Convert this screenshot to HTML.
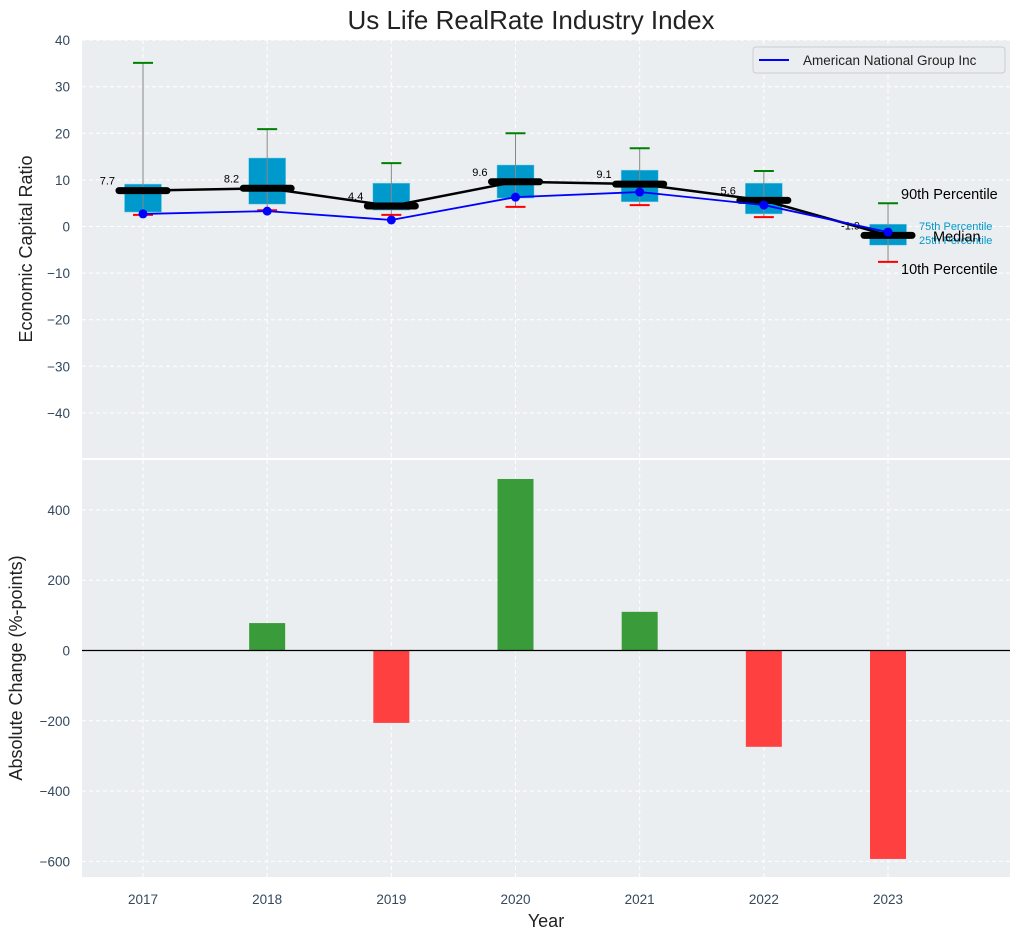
<!DOCTYPE html>
<html><head><meta charset="utf-8"><style>
body{margin:0;background:#fff;}
svg{display:block;font-family:"Liberation Sans","DejaVu Sans",sans-serif;}
</style></head><body>
<svg id="chart" width="1021" height="940" xmlns="http://www.w3.org/2000/svg">
<text x="531" y="29" font-size="26" text-anchor="middle" fill="#222">Us Life RealRate Industry Index</text>
<rect x="82" y="40" width="928" height="418" fill="#eaeef0"/>
<rect x="82" y="460" width="928" height="417" fill="#eaeef0"/>
<g id="grid"></g>
<g id="top"></g>
<g id="bottom"></g>
<g id="axes"></g>
<text transform="translate(32,249) rotate(-90)" font-size="18" text-anchor="middle" fill="#222">Economic Capital Ratio</text>
<text transform="translate(22,668) rotate(-90)" font-size="18" text-anchor="middle" fill="#222">Absolute Change (%-points)</text>
<text x="546" y="927" font-size="18" text-anchor="middle" fill="#222">Year</text>
<g>
<rect x="753" y="47" width="252" height="26" rx="3" fill="#eaeef0" stroke="#ccc"/>
<line x1="759" y1="60" x2="789" y2="60" stroke="#0000ff" stroke-width="2"/>
<text x="803" y="65" font-size="13.5" fill="#222">American National Group Inc</text>
</g>
</svg>
<script>
const years=[2017,2018,2019,2020,2021,2022,2023];
const p90=[35.1,20.9,13.6,20.0,16.8,11.9,5.0];
const p75=[9.1,14.7,9.3,13.2,12.1,9.3,0.5];
const median=[7.7,8.2,4.4,9.6,9.1,5.6,-1.9];
const p25=[3.1,4.8,3.5,6.1,5.3,2.7,-4.0];
const p10=[2.5,3.5,2.5,4.2,4.6,2.0,-7.6];
const company=[2.7,3.3,1.4,6.3,7.4,4.6,-1.2];
const changes=[0,78,-206,488,110,-274,-593];
const topTicks=[-40,-30,-20,-10,0,10,20,30,40];
const botTicks=[-600,-400,-200,0,200,400];

const NS="http://www.w3.org/2000/svg";
const X=v=>143+(v-2017)*124.17;
const YT=v=>226.5-4.66*v;
const YB=v=>650.5-0.3515*v;
function mk(parent,tag,attrs){const e=document.createElementNS(NS,tag);for(const k in attrs)e.setAttribute(k,attrs[k]);document.getElementById(parent).appendChild(e);return e;}

topTicks.forEach(t=>{
 let g=mk('grid','line',{x1:82,x2:1010,y1:YT(t),y2:YT(t),stroke:'#fff','stroke-dasharray':'4,3','stroke-width':1});
 
 
 let l=mk('axes','text',{x:70,y:YT(t)+5,'font-size':13.5,'text-anchor':'end',fill:'#34495e'});l.textContent=(t<0?'\u2212'+(-t):t);
 
 
});
botTicks.forEach(t=>{
 let g=mk('grid','line',{x1:82,x2:1010,y1:YB(t),y2:YB(t),stroke:'#fff','stroke-dasharray':'4,3','stroke-width':1});
 
 
 let l=mk('axes','text',{x:70,y:YB(t)+5,'font-size':13.5,'text-anchor':'end',fill:'#34495e'});l.textContent=(t<0?'\u2212'+(-t):t);
 
 
});
years.forEach(y=>{
 [[40,458],[460,877]].forEach(r=>{
  let g=mk('grid','line',{x1:X(y),x2:X(y),y1:r[0],y2:r[1],stroke:'#fff','stroke-dasharray':'4,3','stroke-width':1});
  
  
 });
 let l=mk('axes','text',{x:X(y),y:904,'font-size':13.5,'text-anchor':'middle',fill:'#34495e'});l.textContent=y;
 
 
});

years.forEach((y,i)=>{
 const x=X(y);
 let b=mk('top','rect',{x:x-18.5,y:YT(p75[i]),width:37,height:YT(p25[i])-YT(p75[i]),fill:'#0099cc',stroke:'#7fd0ea','stroke-width':0.5});
 
 
 let w=mk('top','line',{x1:x,x2:x,y1:YT(p90[i]),y2:YT(p10[i]),stroke:'#888','stroke-width':1});
 
 
 let c1=mk('top','line',{x1:x-10,x2:x+10,y1:YT(p90[i]),y2:YT(p90[i]),stroke:'#008000','stroke-width':2});
 
 
 let c2=mk('top','line',{x1:x-10,x2:x+10,y1:YT(p10[i]),y2:YT(p10[i]),stroke:'#ff0000','stroke-width':2});
 
 
});
let mp=years.map((y,i)=>X(y)+','+YT(median[i])).join(' ');
let ml=mk('top','polyline',{points:mp,fill:'none',stroke:'#000','stroke-width':2.5});


years.forEach((y,i)=>{
 const x=X(y);
 let m=mk('top','line',{x1:x-24,x2:x+24,y1:YT(median[i]),y2:YT(median[i]),stroke:'#000','stroke-width':7,'stroke-linecap':'round'});
 
 
 let t=mk('top','text',{x:x-28,y:YT(median[i])-6,'font-size':11,'text-anchor':'end',fill:'#000'});t.textContent=median[i].toFixed(1);
 
 
});
let cp=years.map((y,i)=>X(y)+','+YT(company[i])).join(' ');
let cl=mk('top','polyline',{points:cp,fill:'none',stroke:'#0000ff','stroke-width':1.8});


years.forEach((y,i)=>{
 let d=mk('top','circle',{cx:X(y),cy:YT(company[i]),r:4.5,fill:'#0000ff'});
 
 
});
const L=years.length-1, lx=X(years[L]);
[['90th Percentile',lx+13,YT(p90[L])-4,14.5,'#000'],['10th Percentile',lx+13,YT(p10[L])+12,14.5,'#000'],
 ['75th Percentile',lx+31,YT(p75[L])+6,11,'#0099cc'],['25th Percentile',lx+31,YT(p25[L])-1,11,'#0099cc'],
 ['Median',lx+45,YT(median[L])+6,14.5,'#000']].forEach(a=>{
 let t=mk('top','text',{x:a[1],y:a[2],'font-size':a[3],fill:a[4]});t.textContent=a[0];
 
 
});

years.forEach((y,i)=>{
 const v=changes[i];
 let r=mk('bottom','rect',{x:X(y)-18,y:Math.min(YB(v),YB(0)),width:36,height:Math.abs(YB(v)-YB(0)),fill:v>=0?'#3a9b3a':'#ff4040'});
 
 
});
let z=mk('bottom','line',{x1:82,x2:1010,y1:YB(0),y2:YB(0),stroke:'#000','stroke-width':1.2});


</script>
</body></html>
